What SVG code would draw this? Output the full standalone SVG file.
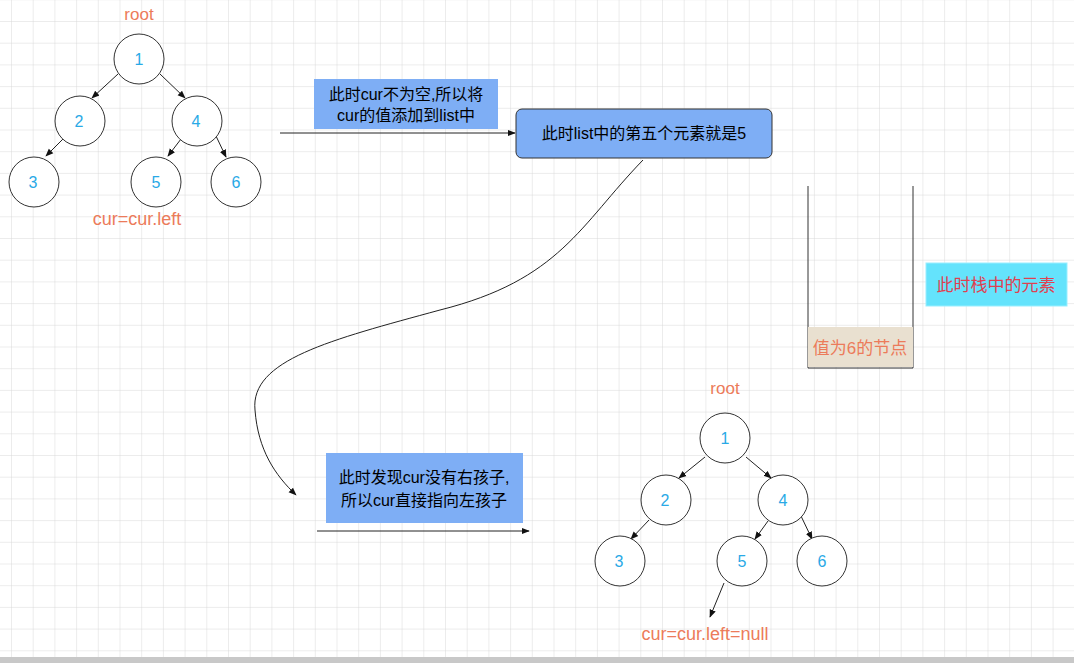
<svg xmlns="http://www.w3.org/2000/svg" width="1074" height="663" viewBox="0 0 1074 663">
<defs>
<pattern id="g" x="11" y="21" width="21.7" height="21.7" patternUnits="userSpaceOnUse">
<path d="M0 0H21.7M0 0V21.7" stroke="#d9d9d9" stroke-width="1" fill="none"/>
</pattern>
<marker id="a" viewBox="0 0 10 10" refX="9" refY="5" markerWidth="8" markerHeight="8" orient="auto"><path d="M0 1L10 5L0 9Z" fill="#111"/></marker>
<style>
.n{fill:#fff;stroke:#333;stroke-width:1}
.t{font-family:"Liberation Sans","Noto Sans CJK SC",sans-serif;font-size:16px;text-anchor:middle}
.b{fill:#29a9e6}
.o{fill:#ec7b5a;font-size:18px}
.e{stroke:#222;stroke-width:1;fill:none;marker-end:url(#a)}
.k{fill:#000;font-size:16px}
</style>
</defs>
<rect width="1074" height="663" fill="#fff"/>
<rect width="1074" height="657" fill="url(#g)"/>
<rect y="657" width="1074" height="6" fill="#c8c8c8"/>
<g id="connectors">
<line class="e" x1="118" y1="74" x2="92" y2="98"/>
<line class="e" x1="160" y1="74" x2="185" y2="98"/>
<line class="e" x1="63" y1="139" x2="46" y2="156"/>
<line class="e" x1="181" y1="139" x2="168" y2="156"/>
<line class="e" x1="216" y1="136" x2="226" y2="157"/>
<line class="e" x1="705" y1="457" x2="679" y2="478"/>
<line class="e" x1="746" y1="457" x2="771" y2="478"/>
<line class="e" x1="649" y1="520" x2="631" y2="539"/>
<line class="e" x1="768" y1="521" x2="755" y2="539"/>
<line class="e" x1="801" y1="516" x2="812" y2="539"/>
<line class="e" x1="724" y1="583" x2="710" y2="617"/>
<line class="e" x1="280" y1="133" x2="515" y2="133"/>
<line class="e" x1="317" y1="531" x2="529" y2="531"/>
<path class="e" d="M643 160C580 225 560 280 440 310C330 340 250 360 255 410C258 450 275 475 296 495"/>
<path d="M808 186V368H913V186" fill="none" stroke="#333"/>
</g>
<g id="root1"><text class="t o" x="139" y="20" style="font-size:17px">root</text></g>
<g id="n1"><circle class="n" cx="139" cy="59" r="25"/><text class="t b" x="139" y="65">1</text></g>
<g id="n2"><circle class="n" cx="80" cy="121" r="25"/><text class="t b" x="79" y="127">2</text></g>
<g id="n4"><circle class="n" cx="197" cy="121" r="25"/><text class="t b" x="196" y="127">4</text></g>
<g id="n3"><circle class="n" cx="34" cy="182" r="25"/><text class="t b" x="33" y="188">3</text></g>
<g id="n5"><circle class="n" cx="156" cy="182" r="25"/><text class="t b" x="156" y="188">5</text></g>
<g id="n6"><circle class="n" cx="236" cy="182" r="25"/><text class="t b" x="236" y="188">6</text></g>
<g id="lbl1"><text class="t o" x="137" y="225">cur=cur.left</text></g>
<g id="note1"><rect x="314" y="79" width="184" height="50" fill="#7eaef5"/><text class="t k" x="406" y="100">此时cur不为空,所以将</text><text class="t k" x="406" y="121">cur的值添加到list中</text></g>
<g id="note2"><rect x="516" y="109" width="256" height="49" rx="6" fill="#7eaef5" stroke="#333"/><text class="t k" x="644" y="139">此时list中的第五个元素就是5</text></g>
<g id="stackLabel"><rect x="926" y="263" width="141" height="43" fill="#64e3fc" stroke="#9ef"/><text class="t" x="996" y="291" fill="#e04050" style="font-size:17px">此时栈中的元素</text></g>
<g id="stackItem"><rect x="808" y="327" width="105" height="40" fill="#e9e0d0"/><text class="t o" x="860" y="354" style="font-size:17px">值为6的节点</text></g>
<g id="note3"><rect x="326" y="453" width="197" height="70" fill="#7eaef5"/><text class="t k" x="424" y="483">此时发现cur没有右孩子,</text><text class="t k" x="424" y="506">所以cur直接指向左孩子</text></g>
<g id="root2"><text class="t o" x="725" y="394" style="font-size:17px">root</text></g>
<g id="m1"><circle class="n" cx="725" cy="438" r="25"/><text class="t b" x="725" y="444">1</text></g>
<g id="m2"><circle class="n" cx="666" cy="500" r="25"/><text class="t b" x="665" y="506">2</text></g>
<g id="m4"><circle class="n" cx="783" cy="500" r="25"/><text class="t b" x="783" y="506">4</text></g>
<g id="m3"><circle class="n" cx="620" cy="561" r="25"/><text class="t b" x="619" y="567">3</text></g>
<g id="m5"><circle class="n" cx="742" cy="561" r="25"/><text class="t b" x="742" y="567">5</text></g>
<g id="m6"><circle class="n" cx="822" cy="561" r="25"/><text class="t b" x="822" y="567">6</text></g>
<g id="lbl2"><text class="t o" x="705" y="640">cur=cur.left=null</text></g>
</svg>
